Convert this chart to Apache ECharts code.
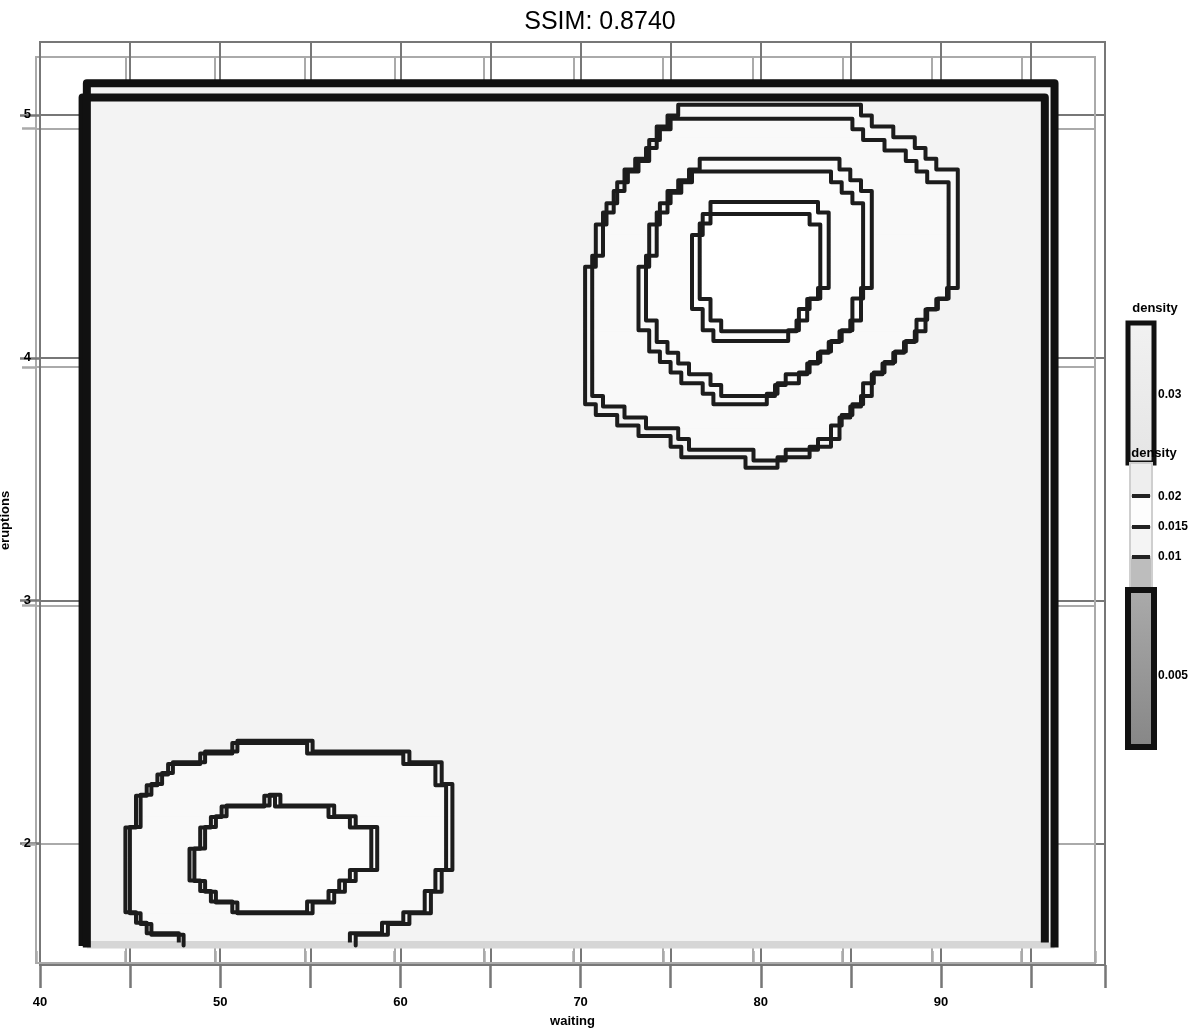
<!DOCTYPE html>
<html><head><meta charset="utf-8">
<script src="https://cdn.jsdelivr.net/npm/echarts@6/dist/echarts.min.js"></script>
<style>html,body{margin:0;padding:0;background:#fff}#c{width:1200px;height:1034px}</style>
</head><body><div id="c"></div>
<script>
// ---------- data ----------
const titleText = 'SSIM: 0.8740';
const xName = 'waiting';
const yName = 'eruptions';
const xTicks = [40, 50, 60, 70, 80, 90];
const yTicks = [2, 3, 4, 5];
const rasterWait = [42.6, 96.3];     // extent of density raster (x)
const rasterErupt = [1.58, 5.13];    // extent of density raster (y)

// contour polygons [waiting, eruptions]
const contourUR1 = [[75.9,5.03],[85.0,5.03],[86.3,4.98],[87.8,4.92],[88.9,4.87],[89.6,4.81],[90.6,4.76],[90.9,4.72],[90.9,4.32],[90.4,4.29],[89.3,4.16],[88.2,4.07],[87.0,3.97],[85.9,3.86],[84.8,3.76],[83.9,3.66],[82.6,3.62],[80.7,3.58],[78.5,3.62],[76.3,3.64],[75.2,3.69],[73.7,3.73],[72.6,3.77],[71.3,3.83],[70.6,3.89],[70.6,4.33],[71.3,4.54],[71.8,4.63],[72.4,4.72],[73.1,4.80],[73.9,4.87],[74.4,4.94],[75.2,4.99]];
const contourUR2 = [[77.2,4.84],[83.6,4.84],[84.5,4.79],[85.4,4.73],[86.1,4.66],[86.4,4.61],[86.4,4.36],[85.9,4.30],[85.6,4.22],[85.0,4.13],[84.3,4.07],[83.3,4.00],[82.4,3.96],[81.3,3.90],[80.6,3.86],[77.8,3.85],[77.4,3.89],[76.5,3.94],[75.7,3.98],[75.0,4.04],[74.2,4.09],[73.8,4.16],[73.8,4.36],[74.2,4.55],[74.6,4.62],[75.2,4.69],[75.9,4.76],[76.7,4.81]];
const contourUR3 = [[78.0,4.65],[82.9,4.65],[83.4,4.60],[83.6,4.55],[83.6,4.31],[83.1,4.27],[82.8,4.22],[82.2,4.16],[81.9,4.13],[78.0,4.13],[77.4,4.18],[77.0,4.25],[76.5,4.29],[76.5,4.51],[76.8,4.55],[77.2,4.59],[77.6,4.63]];
const contourLL1 = [[50.7,2.43],[55.0,2.43],[55.0,2.38],[60.7,2.38],[60.7,2.34],[62.2,2.34],[62.2,2.25],[62.8,2.24],[62.8,1.91],[62.1,1.89],[62.1,1.81],[61.4,1.80],[61.4,1.72],[60.6,1.70],[60.6,1.68],[59.1,1.66],[59.1,1.62],[57.7,1.61],[57.7,1.55],[47.7,1.55],[47.7,1.61],[46.2,1.62],[46.2,1.67],[45.5,1.69],[45.5,1.72],[44.8,1.72],[44.8,2.09],[45.4,2.09],[45.4,2.18],[46.1,2.19],[46.1,2.23],[46.9,2.25],[46.9,2.27],[47.6,2.29],[47.6,2.34],[49.1,2.34],[49.1,2.38],[50.7,2.38]];
const contourLL2 = [[50.6,2.15],[52.6,2.15],[52.6,2.18],[53.6,2.18],[53.6,2.15],[56.4,2.15],[56.4,2.10],[57.8,2.10],[57.8,2.05],[58.6,2.05],[58.6,1.91],[57.7,1.90],[57.7,1.86],[57.0,1.85],[57.0,1.81],[56.3,1.80],[56.3,1.76],[54.9,1.75],[54.9,1.72],[51.2,1.72],[51.2,1.76],[49.9,1.77],[49.9,1.81],[49.2,1.82],[49.2,1.86],[48.4,1.86],[48.4,2.00],[49.1,2.00],[49.1,2.05],[49.9,2.05],[49.9,2.09],[50.6,2.10]];
const contourLevels = [1, 2, 3, 1, 2];
const levelColors = ['#f3f3f3', '#f9f9f9', '#fcfcfc', '#ffffff'];

const legendTitle = 'density';
const legendTickLabels = ['0.03', '0.02', '0.015', '0.01', '0.005'];

// ---------- build ----------
const contours = [contourUR1, contourUR2, contourUR3, contourLL1, contourLL2];
const NX = 90, NY = 80;
const dw = (rasterWait[1] - rasterWait[0]) / NX;
const de = (rasterErupt[1] - rasterErupt[0]) / NY;

function inPoly(x, y, poly) {
  let inside = false;
  for (let i = 0, j = poly.length - 1; i < poly.length; j = i++) {
    const xi = poly[i][0], yi = poly[i][1], xj = poly[j][0], yj = poly[j][1];
    if (((yi > y) !== (yj > y)) && (x < (xj - xi) * (y - yi) / (yj - yi) + xi)) inside = !inside;
  }
  return inside;
}
const masks = contours.map(poly => {
  const m = [];
  for (let j = 0; j < NY; j++) {
    const e = rasterErupt[0] + (j + 0.5) * de, row = [];
    for (let i = 0; i < NX; i++) row.push(inPoly(rasterWait[0] + (i + 0.5) * dw, e, poly));
    m.push(row);
  }
  return m;
});
const contourData = contours.map((c, k) => [c[0][0], c[0][1], k]);

function fillItem(params, api) {
  const k = api.value(2), m = masks[k], children = [];
  for (let j = 0; j < NY; j++) {
    let i = 0;
    while (i < NX) {
      if (!m[j][i]) { i++; continue; }
      const s = i;
      while (i < NX && m[j][i]) i++;
      const p0 = api.coord([rasterWait[0] + s * dw, rasterErupt[0] + (j + 1) * de]);
      const p1 = api.coord([rasterWait[0] + i * dw, rasterErupt[0] + j * de]);
      children.push({type: 'rect', shape: {x: p0[0], y: p0[1], width: p1[0] - p0[0], height: p1[1] - p0[1] + 0.6},
        style: {fill: levelColors[contourLevels[k]]}});
    }
  }
  return {type: 'group', children};
}
function strokeItem(params, api) {
  const k = api.value(2), m = masks[k];
  let d = '';
  const P = (i, j) => api.coord([rasterWait[0] + i * dw, rasterErupt[0] + j * de]);
  const seg = (a, b) => { d += 'M' + a[0].toFixed(1) + ' ' + a[1].toFixed(1) + 'L' + b[0].toFixed(1) + ' ' + b[1].toFixed(1); };
  for (let j = 0; j < NY; j++) for (let i = 0; i < NX; i++) {
    if (!m[j][i]) continue;
    if (i > 0 && !m[j][i - 1]) seg(P(i, j), P(i, j + 1));
    if (i < NX - 1 && !m[j][i + 1]) seg(P(i + 1, j), P(i + 1, j + 1));
    if (j > 0 && !m[j - 1][i]) seg(P(i, j), P(i + 1, j));
    if (j < NY - 1 && !m[j + 1][i]) seg(P(i, j + 1), P(i + 1, j + 1));
  }
  return {type: 'path', shape: {pathData: d},
    style: {fill: 'none', stroke: '#1c1c1c', lineWidth: 4, lineCap: 'round', lineJoin: 'round'}};
}
function panelItem(withFill) {
  return function (params, api) {
    const tl = api.coord([rasterWait[0], rasterErupt[1]]);
    const br = api.coord([rasterWait[1], rasterErupt[0]]);
    const ch = [];
    if (withFill) {
      ch.push({type: 'rect', shape: {x: tl[0], y: tl[1], width: br[0] - tl[0], height: br[1] - tl[1]}, style: {fill: levelColors[0]}});
    } else {
      ch.push({type: 'line', shape: {x1: tl[0], y1: br[1], x2: br[0], y2: br[1]}, style: {stroke: '#d6d6d6', lineWidth: 6}});
      ch.push({type: 'polyline', shape: {points: [[tl[0], br[1] + 2], [tl[0], tl[1]], [br[0], tl[1]], [br[0], br[1] + 2]]},
        style: {fill: 'none', stroke: '#111', lineWidth: 8, lineJoin: 'round'}});
    }
    return {type: 'group', children: ch};
  };
}

const labelStyle = {color: '#000', fontSize: 13, fontWeight: 'bold'};
function mkX(gi, main) {
  const c = main ? '#777' : '#aaa';
  return {type: 'value', gridIndex: gi, min: 40, max: 99.1, interval: 5,
    axisLine: {show: true, onZero: false, lineStyle: {color: c, width: 2}},
    axisTick: {show: true, inside: !main, length: main ? 23 : 12, lineStyle: {color: c, width: 2.5}},
    axisLabel: Object.assign({show: main, customValues: xTicks, margin: 31}, labelStyle),
    splitLine: {show: true, lineStyle: {color: c, width: 2}},
    name: main ? xName : '', nameLocation: 'middle', nameGap: 50,
    nameTextStyle: {color: '#000', fontSize: 13, fontWeight: 'bold'}};
}
function mkY(gi, main) {
  const c = main ? '#777' : '#aaa';
  return {type: 'value', gridIndex: gi, min: 1.5, max: 5.3, interval: 0.5,
    axisLine: {show: true, onZero: false, lineStyle: {color: c, width: 2}},
    axisTick: {show: true, customValues: yTicks, length: main ? 20 : 14, lineStyle: {color: c, width: 2.5}},
    axisLabel: Object.assign({show: main, customValues: yTicks, margin: 9}, labelStyle),
    splitLine: {show: true, lineStyle: {color: c, width: 2}},
    name: main ? yName : '', nameLocation: 'middle', nameGap: 28, nameRotate: 90,
    nameTextStyle: {color: '#000', fontSize: 13, fontWeight: 'bold', padding: [0, 0, 0, -34]}};
}

const series = [
  {type: 'custom', xAxisIndex: 0, yAxisIndex: 0, data: [[rasterWait[0], rasterErupt[0]]], renderItem: panelItem(true), silent: true, z: 2},
  {type: 'custom', xAxisIndex: 0, yAxisIndex: 0, data: contourData, renderItem: fillItem, silent: true, z: 3},
  {type: 'custom', xAxisIndex: 1, yAxisIndex: 1, data: [[rasterWait[0], rasterErupt[0]]], renderItem: panelItem(false), silent: true, z: 4},
  {type: 'custom', xAxisIndex: 1, yAxisIndex: 1, data: contourData, renderItem: strokeItem, silent: true, z: 5},
  {type: 'custom', xAxisIndex: 0, yAxisIndex: 0, data: [[rasterWait[0], rasterErupt[0]]], renderItem: panelItem(false), silent: true, z: 6},
  {type: 'custom', xAxisIndex: 0, yAxisIndex: 0, data: contourData, renderItem: strokeItem, silent: true, z: 7}
];

// legend (colour bar) decoration
const lx = 1128, lw = 26;
const legendGraphic = [
  {type: 'text', x: 1155, y: 308, style: {text: legendTitle, fill: '#000', font: 'bold 13px sans-serif', align: 'center', verticalAlign: 'middle'}},
  {type: 'rect', shape: {x: lx, y: 323, width: lw, height: 140},
    style: {fill: new echarts.graphic.LinearGradient(0, 0, 0, 1, [{offset: 0, color: '#f1f1f1'}, {offset: 1, color: '#e5e5e5'}]), stroke: '#111', lineWidth: 5}},
  {type: 'rect', shape: {x: lx + 2, y: 463, width: lw - 4, height: 33}, style: {fill: '#eeeeee', stroke: '#cfcfcf', lineWidth: 2}},
  {type: 'rect', shape: {x: lx + 2, y: 496, width: lw - 4, height: 31}, style: {fill: '#fdfdfd', stroke: '#cfcfcf', lineWidth: 2}},
  {type: 'rect', shape: {x: lx + 2, y: 527, width: lw - 4, height: 30}, style: {fill: '#f4f4f4', stroke: '#cfcfcf', lineWidth: 2}},
  {type: 'rect', shape: {x: lx + 2, y: 557, width: lw - 4, height: 31}, style: {fill: '#bdbdbd', stroke: '#cfcfcf', lineWidth: 2}},
  {type: 'line', shape: {x1: lx + 4, y1: 496, x2: lx + lw - 4, y2: 496}, style: {stroke: '#222', lineWidth: 4}},
  {type: 'line', shape: {x1: lx + 4, y1: 527, x2: lx + lw - 4, y2: 527}, style: {stroke: '#222', lineWidth: 4}},
  {type: 'line', shape: {x1: lx + 4, y1: 557, x2: lx + lw - 4, y2: 557}, style: {stroke: '#222', lineWidth: 4}},
  {type: 'rect', shape: {x: lx, y: 590, width: lw, height: 157},
    style: {fill: new echarts.graphic.LinearGradient(0, 0, 0, 1, [{offset: 0, color: '#ababab'}, {offset: 1, color: '#868686'}]), stroke: '#111', lineWidth: 6}},
  {type: 'text', x: 1154, y: 453, style: {text: legendTitle, fill: '#000', font: 'bold 13px sans-serif', align: 'center', verticalAlign: 'middle'}},
  {type: 'text', x: 1158, y: 395, style: {text: legendTickLabels[0], fill: '#000', font: 'bold 12px sans-serif', align: 'left', verticalAlign: 'middle'}},
  {type: 'text', x: 1158, y: 497, style: {text: legendTickLabels[1], fill: '#000', font: 'bold 12px sans-serif', align: 'left', verticalAlign: 'middle'}},
  {type: 'text', x: 1158, y: 527, style: {text: legendTickLabels[2], fill: '#000', font: 'bold 12px sans-serif', align: 'left', verticalAlign: 'middle'}},
  {type: 'text', x: 1158, y: 557, style: {text: legendTickLabels[3], fill: '#000', font: 'bold 12px sans-serif', align: 'left', verticalAlign: 'middle'}},
  {type: 'text', x: 1158, y: 676, style: {text: legendTickLabels[4], fill: '#000', font: 'bold 12px sans-serif', align: 'left', verticalAlign: 'middle'}}
];

const chart = echarts.init(document.getElementById('c'));
chart.setOption({
  animation: false,
  backgroundColor: '#ffffff',
  title: {text: titleText, left: 'center', top: 5,
    textStyle: {fontSize: 25, fontWeight: 'normal', color: '#000', fontFamily: 'Liberation Sans, Arial, sans-serif'}},
  grid: [
    {left: 40, top: 42, width: 1065, height: 923, show: true, borderColor: '#777', borderWidth: 2, backgroundColor: 'transparent', containLabel: false, outerBoundsMode: 'none'},
    {left: 36, top: 57, width: 1059, height: 906, show: true, borderColor: '#aaa', borderWidth: 2, backgroundColor: 'transparent', containLabel: false, outerBoundsMode: 'none'}
  ],
  xAxis: [mkX(0, true), mkX(1, false)],
  yAxis: [mkY(0, true), mkY(1, false)],
  series: series,
  graphic: legendGraphic
});
</script>
</body></html>
